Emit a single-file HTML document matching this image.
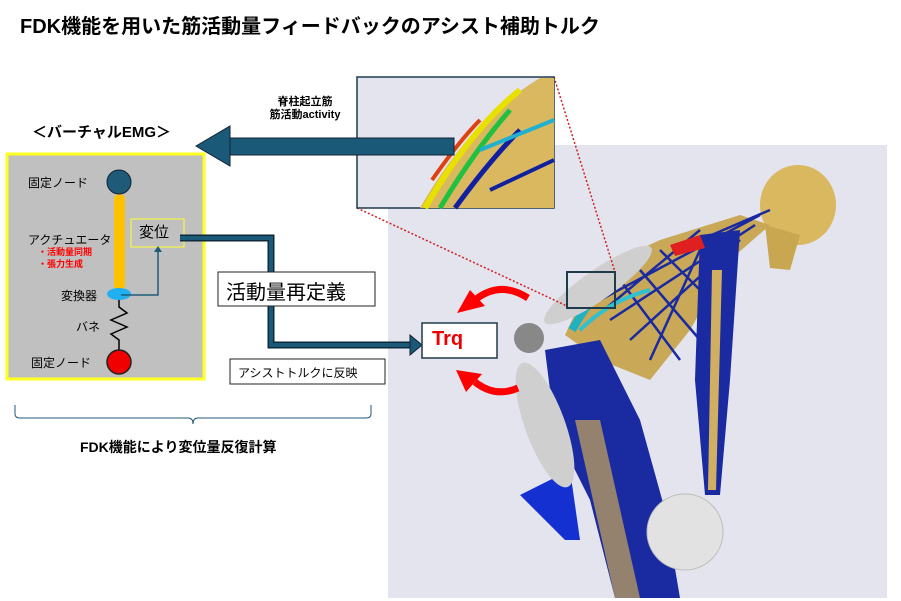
<!DOCTYPE html>
<html><head><meta charset="utf-8"><style>
body{margin:0;width:901px;height:601px;background:#fff;position:relative;overflow:hidden;font-family:"Liberation Sans","Noto Sans CJK JP",sans-serif}
.a{position:absolute}
</style></head><body>
<div class="a" style="left:20px;top:10px;font-size:20px;font-weight:bold;color:#000">FDK機能を用いた筋活動量フィードバックのアシスト補助トルク</div>
<div class="a" style="left:388px;top:145px;width:499px;height:453px;background:#e4e4ee"></div>
<svg class="a" style="left:0;top:0" width="901" height="601">
<!-- figure -->
<g>
<ellipse cx="798" cy="205" rx="38" ry="40" fill="#d9b860"/>
<path d="M765 225 L770 268 L790 270 L800 235Z" fill="#c9a650"/>
<!-- torso -->
<path d="M565 335 L595 270 L660 240 L740 215 L770 225 L730 260 L690 330 L650 380 L600 360Z" fill="#c9a858"/>
<g stroke="#1a2aa0" stroke-width="2.5" fill="none">
<path d="M600 300 L760 215"/><path d="M610 320 L755 225"/><path d="M630 340 L740 240"/>
<path d="M650 360 L700 250"/><path d="M620 280 L680 360"/><path d="M640 270 L700 340"/>
<path d="M660 250 L730 320"/><path d="M580 330 L700 230"/><path d="M700 240 L770 210"/>
</g>
<path d="M572 330 Q600 280 640 262" stroke="#20b0c0" stroke-width="8" fill="none"/>
<path d="M580 330 Q610 300 650 290" stroke="#30c0d0" stroke-width="4" fill="none"/>
<!-- legs -->
<path d="M545 350 L600 340 L640 420 L665 510 L680 598 L615 598 L590 500 L555 430Z" fill="#1a2aa0"/>
<path d="M575 420 L600 420 L640 598 L615 598Z" fill="#c9a858" opacity=".7"/>
<path d="M520 495 L570 470 L580 540 L565 540Z" fill="#1530d0"/>
<!-- arm -->
<path d="M700 235 L740 230 L730 380 L720 495 L705 495 L695 380Z" fill="#1a2aa0"/>
<path d="M712 270 L722 270 L716 490 L708 490Z" fill="#d0b060"/>
<ellipse cx="598" cy="285" rx="65" ry="15" transform="rotate(-35 598 285)" fill="#cfcfcf"/>
<ellipse cx="545" cy="425" rx="20" ry="66" transform="rotate(-20 545 425)" fill="#cfcfcf"/>
<circle cx="529" cy="338" r="15" fill="#888"/>
<circle cx="685" cy="532" r="38" fill="#e2e2e2" stroke="#bbb"/>
<path d="M670 245 L700 235 L705 248 L675 256Z" fill="#e02020"/>
</g>
<rect x="567" y="272" width="48" height="36" fill="none" stroke="#1f3a48" stroke-width="2"/>
<line x1="357" y1="208" x2="567" y2="306" stroke="#d02020" stroke-width="1.5" stroke-dasharray="2,2"/>
<line x1="554" y1="77" x2="615" y2="272" stroke="#d02020" stroke-width="1.5" stroke-dasharray="2,2"/>
<!-- inset -->
<rect x="357" y="77" width="197" height="131" fill="#e4e4ee" stroke="#1f3a48" stroke-width="1.5"/>
<path d="M420 208 Q470 120 540 78 L554 78 L554 208Z" fill="#d9b860"/>
<path d="M425 208 Q470 130 520 90" stroke="#e8e000" stroke-width="6" fill="none"/>
<path d="M440 208 Q475 150 510 110" stroke="#20c040" stroke-width="5" fill="none"/>
<path d="M455 208 Q490 160 520 130" stroke="#1020a0" stroke-width="5" fill="none"/>
<path d="M480 150 L554 120" stroke="#20b0d0" stroke-width="4"/>
<path d="M490 190 L554 160" stroke="#1020a0" stroke-width="4"/>
<path d="M432 180 Q460 140 480 120" stroke="#e04010" stroke-width="4" fill="none"/>
<!-- big arrow to EMG -->
<rect x="228" y="138" width="226" height="17" fill="#1a5a78" stroke="#123" stroke-width="1"/>
<polygon points="196,146 230,126 230,166" fill="#1a5a78" stroke="#123"/>
<!-- EMG box -->
<rect x="7" y="154" width="197" height="225" fill="#c0c0c0" stroke="#ffff20" stroke-width="3"/>
<rect x="114" y="194" width="11" height="96" rx="5" fill="#ffc000"/>
<circle cx="119" cy="182" r="12" fill="#1f5a78" stroke="#123" stroke-width="1"/>
<ellipse cx="119" cy="294" rx="12" ry="6" fill="#20b0f0"/>
<polyline points="119,300 119,307 127,313 111,320 127,327 111,334 119,340 119,350" fill="none" stroke="#000" stroke-width="1.5"/>
<circle cx="119" cy="362" r="12" fill="#f00000" stroke="#222" stroke-width="1.5"/>
<rect x="131" y="219" width="53" height="28" fill="none" stroke="#ffff30" stroke-width="1"/>
<polyline points="121,295 158,295 158,250" fill="none" stroke="#1f5a78" stroke-width="1.5"/>
<polygon points="158,246 154,252 162,252" fill="#1f5a78"/>
<!-- connector -->
<polyline points="180,238 271,238 271,345 410,345" fill="none" stroke="#0e2a3a" stroke-width="7"/>
<polyline points="180,238 271,238 271,345 410,345" fill="none" stroke="#1a5a78" stroke-width="4"/>
<polygon points="410,335 422,345 410,355" fill="#1a5a78" stroke="#123"/>
<rect x="218" y="272" width="157" height="34" fill="#fff" stroke="#222"/>
<rect x="230" y="359" width="155" height="25" fill="#fff" stroke="#222"/>
<rect x="422" y="323" width="75" height="35" fill="#fff" stroke="#1f3a48" stroke-width="1.5"/>
<!-- red arrows -->
<path d="M528 298 Q500 280 475 300" fill="none" stroke="#f00" stroke-width="7"/>
<polygon points="457,313 470,290 485,306" fill="#f00"/>
<path d="M518 388 Q495 398 475 382" fill="none" stroke="#f00" stroke-width="7"/>
<polygon points="456,370 482,374 466,392" fill="#f00"/>
<!-- brace -->
<path d="M15 405 L15 414 Q15 418 20 418 L188 418 Q193 418 193 424 Q193 418 198 418 L366 418 Q371 418 371 414 L371 405" fill="none" stroke="#1f5a78" stroke-width="1"/>
</svg>
<div class="a" style="left:255px;top:96px;font-size:11px;font-weight:bold;width:100px;text-align:center;line-height:13px">脊柱起立筋<br>筋活動activity</div>
<div class="a" style="left:32px;top:121px;font-size:15px;font-weight:bold">＜バーチャルEMG＞</div>
<div class="a" style="left:28px;top:174px;font-size:12px">固定ノード</div>
<div class="a" style="left:28px;top:231px;font-size:12px">アクチュエータ</div>
<div class="a" style="left:38px;top:246px;font-size:9px;color:#f00;font-weight:bold;line-height:12px">・活動量同期<br>・張力生成</div>
<div class="a" style="left:61px;top:287px;font-size:12px">変換器</div>
<div class="a" style="left:76px;top:318px;font-size:12px">バネ</div>
<div class="a" style="left:31px;top:354px;font-size:12px">固定ノード</div>
<div class="a" style="left:139px;top:221px;font-size:15px">変位</div>
<div class="a" style="left:226px;top:276px;font-size:20px">活動量再定義</div>
<div class="a" style="left:238px;top:364px;font-size:12px">アシストトルクに反映</div>
<div class="a" style="left:432px;top:328px;font-size:20px;font-weight:bold;color:#e00">Trq</div>
<div class="a" style="left:80px;top:437px;font-size:14px;font-weight:bold">FDK機能により変位量反復計算</div>
</body></html>
